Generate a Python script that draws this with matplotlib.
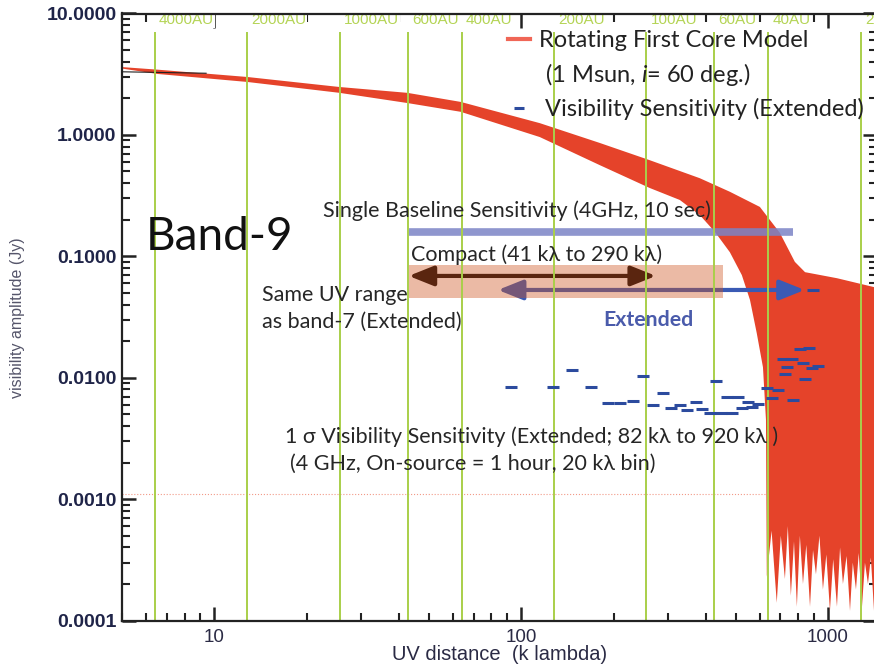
import numpy as np
import matplotlib.pyplot as plt
from matplotlib.lines import Line2D
from matplotlib.ticker import LogLocator, NullFormatter

plt.rcParams['mathtext.fontset'] = 'custom'
plt.rcParams['mathtext.it'] = 'Lato:italic'
plt.rcParams['mathtext.rm'] = 'Lato'

# rotating first core model (band of visibility amplitudes), upper / lower envelope
model_uv_hi = [5.0, 6.5, 12.8, 25.6, 42.6, 63.5, 115, 180, 262, 382, 479, 600, 697, 780, 842, 1070, 1445]
model_hi = [3.62, 3.45, 3.00, 2.48, 2.22, 1.87, 1.25, 0.86, 0.62, 0.44, 0.34, 0.255, 0.156, 0.090, 0.074, 0.066, 0.055]
model_uv_lo = [5.0, 6.5, 12.8, 25.6, 42.6, 63.5, 115, 180, 262, 329, 382, 428, 479, 524, 557, 586, 614, 628,
               632, 655, 681, 702, 724, 740, 757, 775, 792, 810, 829, 850, 874, 894, 914, 938, 963, 988,
               1015, 1040, 1070, 1095, 1119, 1150, 1180, 1205, 1234, 1260, 1291, 1320, 1350, 1380, 1413, 1445]
model_lo = [3.52, 3.18, 2.73, 2.22, 1.83, 1.55, 0.96, 0.565, 0.366, 0.291, 0.219, 0.159, 0.108, 0.070, 0.0437,
            0.0233, 0.0122, 0.0045,
            2.3e-4, 5.5e-4, 1.4e-4, 5.0e-4, 2.2e-4, 6.0e-4, 1.6e-4, 4.5e-4, 1.3e-4, 5.0e-4, 2.0e-4, 4.2e-4,
            1.3e-4, 3.8e-4, 2.4e-4, 5.0e-4, 1.8e-4, 3.5e-4, 1.2e-4, 3.2e-4, 1.3e-4, 4.0e-4, 2.0e-4, 3.4e-4,
            1.2e-4, 3.0e-4, 1.8e-4, 3.6e-4, 1.3e-4, 3.0e-4, 2.0e-4, 3.3e-4, 1.2e-4, 2.5e-4]

# thin black reference curve at the short-baseline end
ref_uv = [5.0, 9.4]
ref_amp = [3.31, 3.22]

# 1 sigma visibility sensitivity (extended), 20 klambda bins
sens_uv = [93, 127, 147, 169, 192, 210, 231, 249, 269, 290, 307, 329, 347, 371, 388, 412, 431, 448, 468, 486,
           509, 524, 548, 565, 591, 632, 657, 687, 713, 724, 735, 763, 769, 810, 829, 841, 867, 887, 894, 928]
sens_amp = [0.0084, 0.0084, 0.0116, 0.0084, 0.0062, 0.0062, 0.0064, 0.0103, 0.0060, 0.0075, 0.0056, 0.0060,
            0.0054, 0.0063, 0.0055, 0.0051, 0.0094, 0.0051, 0.0069, 0.0051, 0.0069, 0.0056, 0.0063, 0.0057,
            0.0061, 0.0082, 0.0068, 0.0079, 0.0142, 0.0107, 0.0122, 0.0142, 0.0066, 0.0172, 0.0132, 0.0097,
            0.0176, 0.0120, 0.0528, 0.0125]

# single baseline sensitivity (4GHz, 10 sec)
single_uv = [43, 767]
single_amp = 0.159
floor_amp = 0.0011

# uv ranges
compact_uv = [43, 275]
compact_amp = 0.0689
extended_uv = [84, 840]
extended_amp = 0.0528
box_uv = [43, 454]
box_amp = [0.0453, 0.0848]

# spatial scale markers
au_scales = [4000, 2000, 1000, 600, 400, 200, 100, 60, 40, 20]
au_to_uv = 25600.0   # klambda * AU

W, H = 874, 665
L, R, T, B = 122, 877, 13.5, 620.5


def afrac(px, py):
    return (px - L) / (R - L), (B - py) / (B - T)


fig = plt.figure(figsize=(W / 100, H / 100), dpi=100)
ax = fig.add_axes([L / W, (H - B) / H, (R - L) / W, (B - T) / H])
ax.set_xscale('log')
ax.set_yscale('log')
ax.set_xlim(5, 1445)
ax.set_ylim(1e-4, 10)

ax.axhline(floor_amp, color='#f29a88', lw=0.8, ls=':', zorder=1)

ax.fill(np.concatenate([model_uv_hi, model_uv_lo[::-1]]),
        np.concatenate([model_hi, model_lo[::-1]]),
        color='#e5432a', lw=0, zorder=2)
ax.plot(ref_uv, ref_amp, color='#222222', lw=0.8, zorder=2.5)

ax.hlines(single_amp, single_uv[0], single_uv[1], color='#7b84c6', lw=5.5, alpha=0.85, zorder=3)

ax.annotate('', xy=(extended_uv[1], extended_amp), xytext=(extended_uv[0], extended_amp),
            arrowprops=dict(arrowstyle='<|-|>,head_length=0.75,head_width=0.3', color='#3a5ab4',
                            lw=3, shrinkA=0, shrinkB=0, mutation_scale=20), zorder=3)
ax.annotate('', xy=(compact_uv[1], compact_amp), xytext=(compact_uv[0], compact_amp),
            arrowprops=dict(arrowstyle='<|-|>,head_length=0.75,head_width=0.3', color='#0d0604',
                            lw=3, shrinkA=0, shrinkB=0, mutation_scale=20), zorder=3)
ax.fill_between(box_uv, [box_amp[0]] * 2, [box_amp[1]] * 2, color='#cf5420', alpha=0.4, lw=0, zorder=3.5)

grid_uv = [au_to_uv / a for a in au_scales]
ax.vlines(grid_uv, 1e-4, 7.0, colors='#a9cf4a', lw=1.4, zorder=4)
for a, u in zip(au_scales, grid_uv):
    ax.annotate(f'{a}AU', xy=(u, 1), xycoords=('data', 'axes fraction'), xytext=(3, -5),
                textcoords='offset points', ha='left', va='center', fontsize=11,
                family='Liberation Sans', color='#b4d455', zorder=5,
                bbox=dict(fc='white', ec='none', pad=0.6))

ax.plot(sens_uv, sens_amp, ls='none', marker='_', ms=8, mew=2.2, color='#2c4b9e', zorder=6)

# annotations
tfont = ['Lato', 'DejaVu Sans']
tc = '#262626'
notes = [
    ('Single Baseline Sensitivity (4GHz, 10 sec)', 323, 211, 15.5, tc, 'normal'),
    ('Band-9', 146, 237, 33, '#111111', 'normal'),
    ('Compact (41 k\u03bb to 290 k\u03bb)', 411, 255, 15.5, tc, 'normal'),
    ('Same UV range', 262, 295, 15.5, tc, 'normal'),
    ('as band-7 (Extended)', 262, 322, 15.5, tc, 'normal'),
    ('Extended', 603, 320, 15.3, '#4a5bab', 'bold'),
    ('1 \u03c3 Visibility Sensitivity (Extended; 82 k\u03bb to 920 k\u03bb )', 285, 437, 15.5, tc, 'normal'),
    ('(4 GHz, On-source = 1 hour, 20 k\u03bb bin)', 290, 464, 15.5, tc, 'normal'),
]
for s, px, py, fs, c, fw in notes:
    x, y = afrac(px, py)
    ax.text(x, y, s, transform=ax.transAxes, ha='left', va='center', fontsize=fs, color=c,
            fontweight=fw, family=tfont, zorder=5)

handles = [Line2D([], [], color='#f06656', lw=3),
           Line2D([], [], color='none'),
           Line2D([], [], ls='none', marker='_', ms=7, mew=2.2, color='#2c4b9e')]
labels = ['Rotating First Core Model', ' (1 Msun, $i$= 60 deg.)', ' Visibility Sensitivity (Extended)']
ax.legend(handles, labels, loc='upper left', bbox_to_anchor=afrac(508, 30), frameon=False,
          borderpad=0, borderaxespad=0, handlelength=0.95, handletextpad=0.37, labelspacing=0.43,
          prop=dict(family=tfont, size=17), labelcolor='#222222')

# axes styling
ax.xaxis.set_major_locator(LogLocator(base=10, numticks=10))
ax.xaxis.set_minor_locator(LogLocator(base=10, subs=np.arange(2, 10), numticks=30))
ax.xaxis.set_minor_formatter(NullFormatter())
ax.set_xticks([10, 100, 1000], ['10', '100', '1000'], fontsize=13.5, family='Liberation Sans', color='#2a2a44')
yt = 10.0 ** np.arange(-4, 2)
ax.set_yticks(yt, [f'{v:.4f}' for v in yt], fontsize=14, fontweight='bold', family='Liberation Sans',
              color='#1f2448')
ax.yaxis.set_minor_locator(LogLocator(base=10, subs=np.arange(2, 10), numticks=30))
ax.yaxis.set_minor_formatter(NullFormatter())
ax.tick_params(which='both', direction='in', top=True, right=True, color='#222222')
ax.tick_params(which='major', length=10, width=1.8)
ax.tick_params(which='minor', length=6, width=1.5)
ax.tick_params(axis='x', which='major', pad=6)
ax.tick_params(axis='y', which='major', pad=4)
for sp in ax.spines.values():
    sp.set_linewidth(1.6)
    sp.set_color('#222222')
    sp.set_zorder(8)

ax.set_xlabel('UV distance  (k lambda)', fontsize=14.5, family='Liberation Sans', color='#2a2a44',
              va='center')
ax.xaxis.set_label_coords(afrac(500, 0)[0], afrac(0, 654)[1])
ax.set_ylabel('visibility amplitude (Jy)', fontsize=11.5, family='Liberation Sans', color='#55556a',
              va='center')
ax.yaxis.set_label_coords(afrac(18, 0)[0], afrac(0, 318)[1])

fig.savefig('out.png', dpi=100)
